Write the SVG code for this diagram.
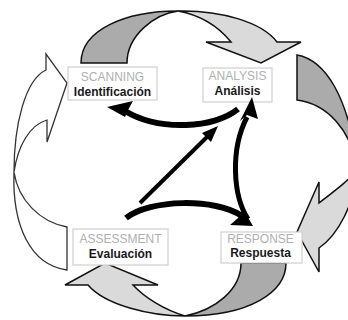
<svg xmlns="http://www.w3.org/2000/svg" width="348" height="320" viewBox="0 0 348 320">
<style>
.bg{fill:#fff}
.dark{fill:#ababab;stroke:#111;stroke-width:1.5;stroke-linejoin:miter}
.light{fill:#dadada;stroke:#111;stroke-width:1.5;stroke-linejoin:miter}
.white{fill:#fff;stroke:#333;stroke-width:1.3;stroke-linejoin:miter}
.box{fill:#fff;stroke:#cfcfcf;stroke-width:1.2}
.en{font-family:"Liberation Sans",Arial,sans-serif;font-size:12px;fill:#b0b0b0;text-anchor:middle}
.es{font-family:"Liberation Sans",Arial,sans-serif;font-size:12px;font-weight:bold;fill:#1a1a1a;text-anchor:middle}
.shaft{fill:none;stroke:#000;stroke-linecap:butt}
.head{fill:#000;stroke:none}
</style>
<rect class="bg" x="0" y="0" width="348" height="320"/>
<g id="cycle">
  <path class="dark" d="M81,63 C81,30 125,11 178,11 C155,14 127,35 127,63 Z"/>
  <path class="light" d="M178,11 C220,10 262,22 277,42 L301,42 L261,63 L206,42 L231,42 C218,26 200,15 178,11 Z"/>
  <path class="dark" d="M297,55 C325,60 348,95 358,168 C350,130 328,104 297,100 Z"/>
  <path class="light" d="M358,168 C354,205 338,235 319,248 L319,272 L297,232 L319,182 L319,203 C336,190 352,178 358,168 Z"/>
  <path class="dark" d="M286,263 C286,292 250,316 185,316 C215,310 241,290 241,263 Z"/>
  <path class="light" d="M185,316 C150,316 105,305 88,285 L65,285 L105,263 L158,285 L133,285 C145,298 165,310 185,316 Z"/>
  <path class="white" d="M67,227 C40,222 18,200 14,172 C12,225 30,265 67,270 Z"/>
  <path class="white" d="M14,172 C14,125 25,80 46,70 L46,54 L67,83 L47,142 L47,120 C30,125 18,145 14,172 Z"/>
</g>
<g id="scanning">
  <rect class="box" x="68" y="67" width="89" height="33"/>
  <text class="en" x="112.5" y="81">SCANNING</text>
  <text class="es" x="112.5" y="96">Identificación</text>
</g>
<g id="analysis">
  <rect class="box" x="203" y="68" width="69" height="34"/>
  <text class="en" x="237.5" y="80">ANALYSIS</text>
  <text class="es" x="237.5" y="95">Análisis</text>
</g>
<g id="assessment">
  <rect class="box" x="73" y="229" width="95" height="36"/>
  <text class="en" x="120.5" y="243">ASSESSMENT</text>
  <text class="es" x="120.5" y="258">Evaluación</text>
</g>
<g id="response">
  <rect class="box" x="221" y="232" width="81" height="31"/>
  <text class="en" x="260.5" y="243">RESPONSE</text>
  <text class="es" x="260.5" y="257">Respuesta</text>
</g>
<g id="connectors">
  <path class="shaft" stroke-width="6" d="M238,109 C215,128 160,132 125,111"/>
  <polygon class="head" points="107,107 133,101 128,110 125,117"/>
  <line class="shaft" stroke-width="4" x1="140" y1="203" x2="208" y2="136"/>
  <polygon class="head" points="218,126 202,133 206,137 211,142"/>
  <path class="shaft" stroke-width="5" d="M248,219 C233,196 230,150 247,117"/>
  <polygon class="head" points="252,97 240,121 247,115 258,119"/>
  <path class="shaft" stroke-width="6" d="M126,218 C150,199 215,198 242,216"/>
  <polygon class="head" points="253,226 230,225 238,218 243,209"/>
</g>
</svg>
